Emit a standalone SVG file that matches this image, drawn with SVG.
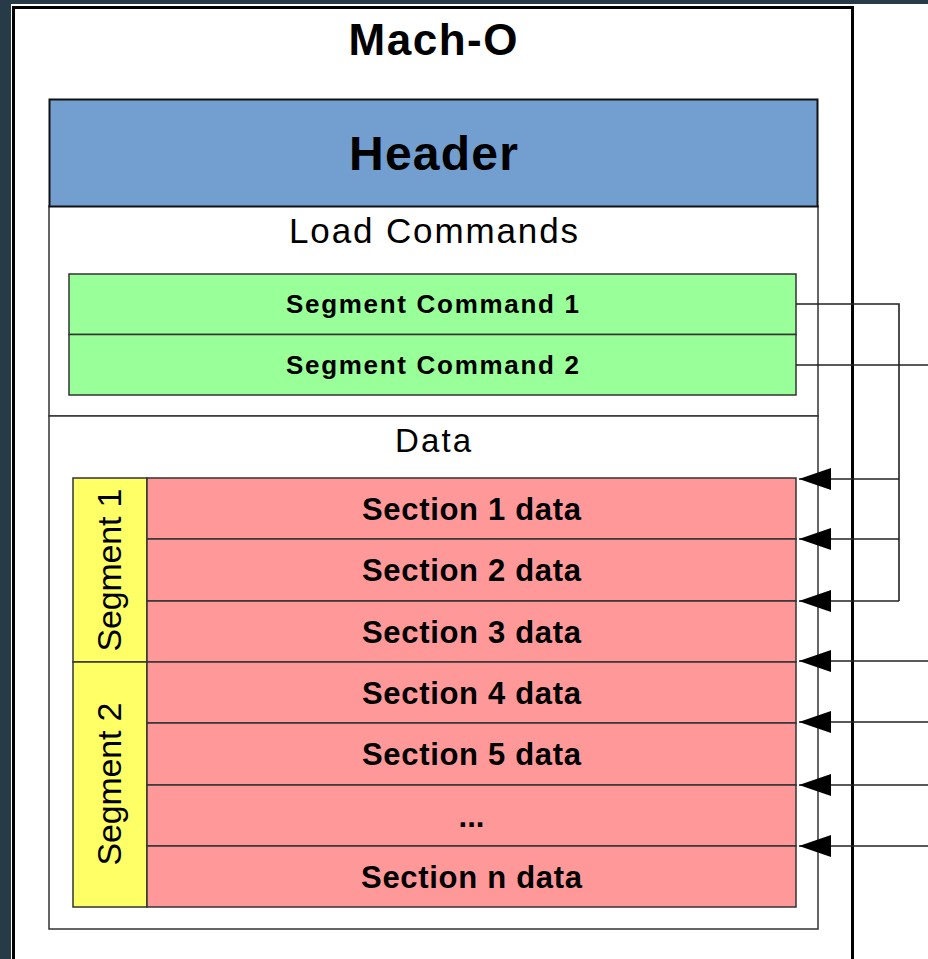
<svg xmlns="http://www.w3.org/2000/svg" width="928" height="959" viewBox="0 0 928 959">
<style>
.t{font-family:"Liberation Sans",Arial,sans-serif;fill:#000;text-anchor:middle}
.b{font-weight:bold}
.box{stroke:#333;stroke-width:1.5}
.sec{fill:#ff9999;stroke:#333;stroke-width:1.5}
.cn{fill:none;stroke:#222;stroke-width:1.6}
</style>
<defs>
<marker id="ah" markerUnits="userSpaceOnUse" markerWidth="34" markerHeight="24" refX="33" refY="12" orient="auto" viewBox="0 0 34 24">
<path d="M1,1 L33,12 L1,23 Z" fill="#000"/>
</marker>
</defs>
<rect x="0" y="0" width="928" height="959" fill="#273a48"/>
<rect x="11" y="4" width="917" height="955" fill="#fff"/>
<g id="macho">
<rect x="13.5" y="7.5" width="839" height="960" fill="none" stroke="#000" stroke-width="3"/>
<text class="t b" x="433" y="55" font-size="44" textLength="169" lengthAdjust="spacing">Mach-O</text>
</g>
<g id="loadcommands">
<rect class="box" x="49" y="206" width="769" height="210" fill="#fff"/>
<text class="t" x="433.5" y="243" font-size="35" textLength="289" lengthAdjust="spacing">Load Commands</text>
</g>
<g id="data">
<rect class="box" x="49" y="416" width="769" height="513" fill="#fff"/>
<text class="t" x="433" y="452" font-size="33" textLength="76" lengthAdjust="spacing">Data</text>
</g>
<g id="header">
<rect x="49.5" y="99.5" width="768" height="107" fill="#729fcf" stroke="#111" stroke-width="2"/>
<text class="t b" x="433.5" y="170" font-size="48" textLength="169" lengthAdjust="spacing">Header</text>
</g>
<g id="segcmd1">
<rect class="box" x="69" y="274" width="727" height="60.5" fill="#99ff99"/>
<text class="t b" x="432.5" y="313" font-size="26" textLength="293" lengthAdjust="spacing">Segment Command 1</text>
</g>
<g id="segcmd2">
<rect class="box" x="69" y="334.5" width="727" height="60.5" fill="#99ff99"/>
<text class="t b" x="432.5" y="374" font-size="26" textLength="293" lengthAdjust="spacing">Segment Command 2</text>
</g>
<g id="segment1">
<rect class="box" x="73" y="478" width="74" height="184" fill="#ffff66"/>
<text class="t" transform="translate(121,570) rotate(-90)" font-size="34" textLength="163" lengthAdjust="spacing">Segment 1</text>
</g>
<g id="segment2">
<rect class="box" x="73" y="662" width="74" height="245" fill="#ffff66"/>
<text class="t" transform="translate(121,784) rotate(-90)" font-size="34" textLength="163" lengthAdjust="spacing">Segment 2</text>
</g>
<g id="sec1"><rect class="sec" x="147" y="478" width="649" height="61"/><text class="t b" x="471.5" y="520" font-size="31" textLength="219" lengthAdjust="spacing">Section 1 data</text></g>
<g id="sec2"><rect class="sec" x="147" y="539" width="649" height="62"/><text class="t b" x="471.5" y="581" font-size="31" textLength="219" lengthAdjust="spacing">Section 2 data</text></g>
<g id="sec3"><rect class="sec" x="147" y="601" width="649" height="61"/><text class="t b" x="471.5" y="643" font-size="31" textLength="219" lengthAdjust="spacing">Section 3 data</text></g>
<g id="sec4"><rect class="sec" x="147" y="662" width="649" height="61"/><text class="t b" x="471.5" y="704" font-size="31" textLength="219" lengthAdjust="spacing">Section 4 data</text></g>
<g id="sec5"><rect class="sec" x="147" y="723" width="649" height="62"/><text class="t b" x="471.5" y="765" font-size="31" textLength="219" lengthAdjust="spacing">Section 5 data</text></g>
<g id="secdots"><rect class="sec" x="147" y="785" width="649" height="61"/><text class="t b" x="471.5" y="827" font-size="31">...</text></g>
<g id="secn"><rect class="sec" x="147" y="846" width="649" height="61"/><text class="t b" x="471.5" y="888" font-size="31" textLength="221" lengthAdjust="spacing">Section n data</text></g>
<g id="connectors">
<path class="cn" d="M796,304 H899 V601"/>
<path class="cn" d="M796,365 H928"/>
<path class="cn" d="M899,479 H799" marker-end="url(#ah)"/>
<path class="cn" d="M899,539 H799" marker-end="url(#ah)"/>
<path class="cn" d="M899,601 H799" marker-end="url(#ah)"/>
<path class="cn" d="M928,661 H799" marker-end="url(#ah)"/>
<path class="cn" d="M928,722 H799" marker-end="url(#ah)"/>
<path class="cn" d="M928,785 H799" marker-end="url(#ah)"/>
<path class="cn" d="M928,846 H799" marker-end="url(#ah)"/>
</g>
</svg>
